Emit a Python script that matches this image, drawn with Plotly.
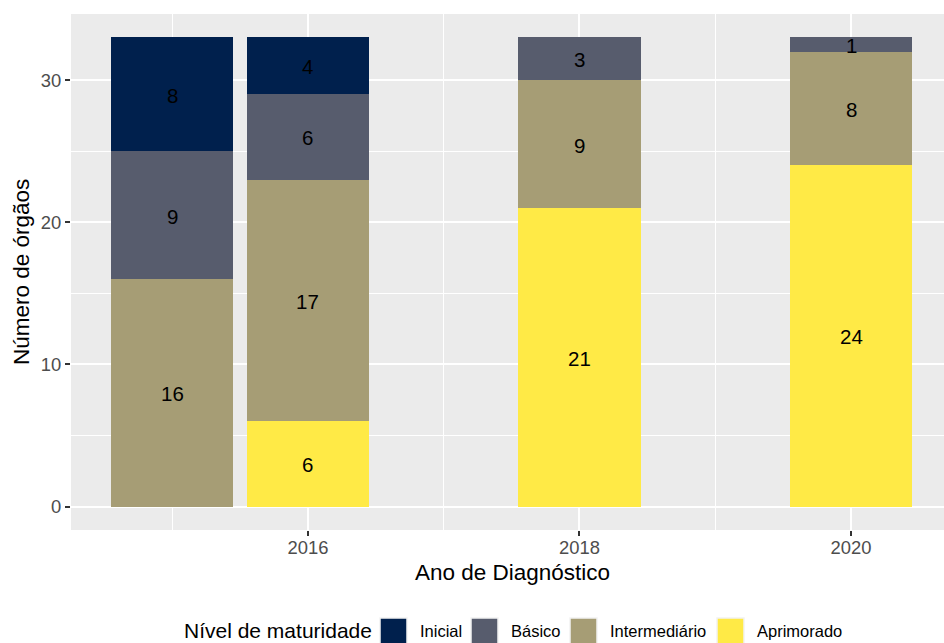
import plotly.graph_objects as go

# ---- data ----
years = [2015, 2016, 2018, 2020]
levels = ["Inicial", "Básico", "Intermediário", "Aprimorado"]
inicial = [8, 4, None, None]
basico = [9, 6, 3, 1]
intermediario = [16, 17, 9, 8]
aprimorado = [None, 6, 21, 24]
x_tick_vals = [2016, 2018, 2020]
y_tick_vals = [0, 10, 20, 30]
x_title = "Ano de Diagnóstico"
y_title = "Número de órgãos"
legend_title = "Nível de maturidade"

colors = {"Inicial": "#00204D", "Básico": "#575C6D",
          "Intermediário": "#A69D75", "Aprimorado": "#FFEA46"}
series = {"Inicial": inicial, "Básico": basico,
          "Intermediário": intermediario, "Aprimorado": aprimorado}

FONT = "Liberation Sans, Arial, sans-serif"
W, H = 944, 643
L, R, T, B = 71, 0, 14, 113
PW, PH = W - L - R, H - T - B


def px_x(p):
    return (p - L) / PW


def px_y(p):
    return (H - B - p) / PH


fig = go.Figure()
annotations = []

# stacked bars: bottom first
stack_order = ["Aprimorado", "Intermediário", "Básico", "Inicial"]
base = [0] * len(years)
for lvl in stack_order:
    vals = series[lvl]
    fig.add_trace(go.Bar(
        x=years, y=vals, name=lvl, width=0.9,
        marker=dict(color=colors[lvl], line=dict(width=0)),
        showlegend=False, hoverinfo="x+y+name"))
    for i, v in enumerate(vals):
        if v:
            annotations.append(dict(
                text=str(v), x=years[i], y=base[i] + v / 2,
                xref="x", yref="y", showarrow=False,
                xanchor="center", yanchor="middle", yshift=-1,
                font=dict(family=FONT, size=20.5, color="black")))
            base[i] += v

fig.update_layout(
    width=W, height=H, barmode="stack",
    margin=dict(l=L, r=R, t=T, b=B),
    paper_bgcolor="white", plot_bgcolor="#EBEBEB",
    font=dict(family=FONT, color="black"),
    showlegend=False,
)

fig.update_xaxes(
    range=[2014.255, 2020.685], tickvals=x_tick_vals,
    ticktext=[str(v) for v in x_tick_vals],
    showgrid=True, gridcolor="white", gridwidth=2.2,
    minor=dict(tickvals=[2015, 2017, 2019], showgrid=True,
               gridcolor="white", gridwidth=1.1, ticks=""),
    ticks="outside", ticklen=5, tickwidth=2, tickcolor="#333333",
    tickfont=dict(family=FONT, size=18.4, color="#4D4D4D"),
    ticklabelstandoff=-4,
    zeroline=False, showline=False, fixedrange=True,
)
fig.update_yaxes(
    range=[-1.65, 34.65], tickvals=y_tick_vals,
    ticktext=[str(v) for v in y_tick_vals],
    showgrid=True, gridcolor="white", gridwidth=2.2,
    minor=dict(tickvals=[5, 15, 25], showgrid=True,
               gridcolor="white", gridwidth=1.1, ticks=""),
    ticks="outside", ticklen=5, tickwidth=2, tickcolor="#333333",
    tickfont=dict(family=FONT, size=18.4, color="#4D4D4D"),
    zeroline=False, showline=False, fixedrange=True,
)

annotations += [
    dict(text=x_title, xref="paper", yref="paper", x=px_x(512), y=px_y(572),
         xanchor="center", yanchor="middle", showarrow=False,
         font=dict(family=FONT, size=22.5, color="black")),
    dict(text=y_title, xref="paper", yref="paper", x=px_x(21), y=0.5,
         xanchor="center", yanchor="middle", showarrow=False, textangle=-90,
         font=dict(family=FONT, size=22.5, color="black")),
    dict(text=legend_title, xref="paper", yref="paper", x=px_x(182), y=px_y(630),
         xanchor="left", yanchor="middle", showarrow=False,
         font=dict(family=FONT, size=21, color="black")),
]
shapes = []
key_left = [380, 471, 570, 717]
key_size = 27
key_top = 618
for lvl, kx in zip(levels, key_left):
    shapes.append(dict(type="rect", xref="paper", yref="paper",
                       x0=px_x(kx), x1=px_x(kx + key_size),
                       y0=px_y(key_top + key_size), y1=px_y(key_top),
                       fillcolor=colors[lvl], line=dict(width=1.5, color="#F2F2F2"),
                       layer="above"))
    annotations.append(dict(text=lvl, xref="paper", yref="paper",
                            x=px_x(kx + key_size + 11), y=px_y(631),
                            xanchor="left", yanchor="middle", showarrow=False,
                            font=dict(family=FONT, size=16.5, color="black")))

fig.update_layout(annotations=annotations, shapes=shapes)

fig.write_html(
    "out.html",
    config={"displayModeBar": False},
    post_script="document.body.style.margin='0px';document.body.style.overflow='hidden';",
)
